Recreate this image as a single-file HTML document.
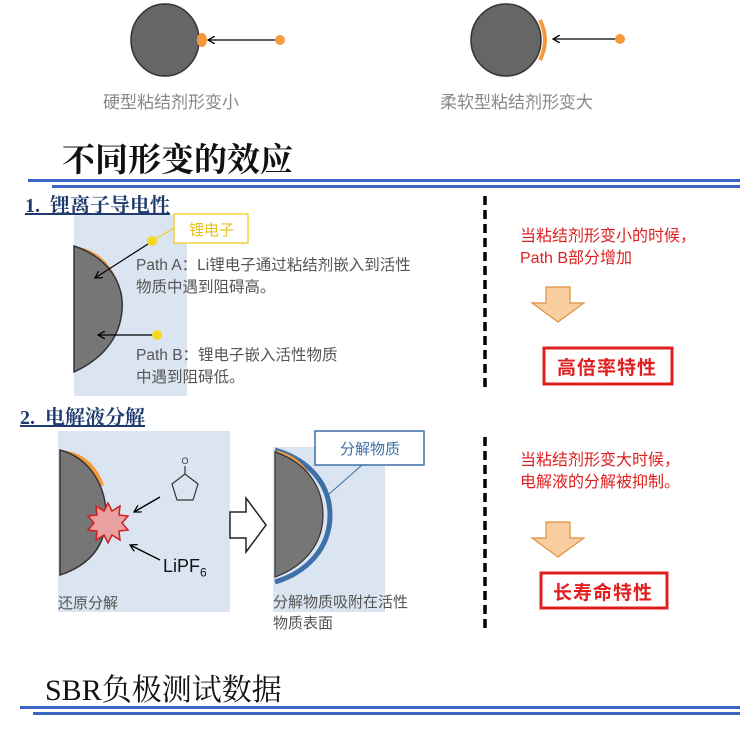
<!DOCTYPE html>
<html><head><meta charset="utf-8"><style>
body{margin:0;width:750px;height:731px;background:#fff;position:relative;overflow:hidden;font-family:"Liberation Sans","Noto Sans CJK SC",sans-serif}
.t{position:absolute;white-space:nowrap}
</style></head><body>
<svg width="750" height="731" style="position:absolute;left:0;top:0">
<defs><marker id="ar" markerWidth="8" markerHeight="8" refX="7" refY="4" orient="auto" markerUnits="userSpaceOnUse"><path d="M0,0 L7,4 L0,8" fill="none" stroke="#000" stroke-width="1.3"/></marker></defs>
<ellipse cx="165" cy="40" rx="34" ry="36" fill="#666" stroke="#333" stroke-width="1.5"/>
<ellipse cx="202" cy="40" rx="5" ry="7" fill="#f39a3c"/>
<line x1="276" y1="40" x2="208" y2="40" stroke="#000" stroke-width="1.2" marker-end="url(#ar)"/>
<circle cx="280" cy="40" r="5" fill="#f39a3c"/>
<ellipse cx="506" cy="40" rx="35" ry="36" fill="#666" stroke="#333" stroke-width="1.5"/>
<path d="M540,20 Q550,40 540,60" fill="none" stroke="#f39a3c" stroke-width="4"/>
<line x1="617" y1="39" x2="553" y2="39" stroke="#000" stroke-width="1.2" marker-end="url(#ar)"/>
<circle cx="620" cy="39" r="5" fill="#f39a3c"/>
<rect x="28" y="179" width="712" height="3" fill="#3a66c9"/>
<rect x="52" y="185" width="688" height="3" fill="#3a66c9"/>
<rect x="20" y="706" width="720" height="3" fill="#3a66c9"/>
<rect x="33" y="712" width="707" height="3" fill="#3a66c9"/>
<rect x="74" y="215" width="113" height="181" fill="#dbe5f1"/>
<path d="M74,246 Q105,250 118,282 L112,285 Q100,262 74,252 Z" fill="#f39a3c"/>
<path d="M74,246 C110,258 124,285 122,310 C120,340 100,360 74,372 Z" fill="#767676" stroke="#333" stroke-width="1.5"/>
<line x1="152" y1="241" x2="174" y2="228" stroke="#f0d040" stroke-width="1.5"/>
<rect x="174" y="214" width="74" height="29" fill="#fff" stroke="#f0d040" stroke-width="1.5"/>
<circle cx="152" cy="241" r="5" fill="#f5d820"/>
<line x1="148" y1="244" x2="95" y2="278" stroke="#000" stroke-width="1.2" marker-end="url(#ar)"/>
<circle cx="157" cy="335" r="5" fill="#f5d820"/>
<line x1="152" y1="335" x2="98" y2="335" stroke="#000" stroke-width="1.2" marker-end="url(#ar)"/>
<rect x="58" y="431" width="172" height="181" fill="#dbe5f1"/>
<path d="M60,450 Q92,452 104,485 L98,488 Q86,462 60,456 Z" fill="#f39a3c"/>
<path d="M60,450 C90,458 104,485 106,510 C108,545 90,565 60,575 Z" fill="#767676" stroke="#333" stroke-width="1.5"/>
<polygon points="108,503 112,511 120,506 119,515 128,516 122,523 128,530 119,531 120,540 112,535 108,543 104,535 96,540 97,531 88,530 94,523 88,516 97,515 96,506 104,511" fill="#e8a0a0" stroke="#d02020" stroke-width="1.5"/>
<polygon points="185,474 198,484 193,500 177,500 172,484" fill="none" stroke="#333" stroke-width="1.2"/>
<line x1="185" y1="474" x2="185" y2="466" stroke="#333" stroke-width="1.2"/>
<text x="185" y="464" font-size="9" text-anchor="middle" fill="#333">O</text>
<line x1="160" y1="497" x2="134" y2="512" stroke="#000" stroke-width="1.5" marker-end="url(#ar)"/>
<line x1="160" y1="560" x2="130" y2="545" stroke="#000" stroke-width="1.5" marker-end="url(#ar)"/>
<path d="M230,512 L246,512 L246,498 L266,525 L246,552 L246,538 L230,538 Z" fill="#fff" stroke="#222" stroke-width="1.5"/>
<rect x="273" y="447" width="112" height="165" fill="#dbe5f1"/>
<path d="M275,450 C310,460 330,485 330,515 C330,550 305,573 275,582" fill="none" stroke="#3d6fa8" stroke-width="5"/>
<path d="M275,450 Q300,455 312,478" fill="#f39a3c"/>
<path d="M275,452 C305,462 323,485 323,515 C323,545 303,567 275,577 Z" fill="#767676" stroke="#333" stroke-width="1.2"/>
<line x1="328" y1="495" x2="362" y2="465" stroke="#3d6fa8" stroke-width="1"/>
<rect x="315" y="431" width="109" height="34" fill="#fff" stroke="#3d6fa8" stroke-width="1.5"/>
<line x1="485" y1="196" x2="485" y2="390" stroke="#000" stroke-width="3.5" stroke-dasharray="9,5"/>
<line x1="485" y1="437" x2="485" y2="632" stroke="#000" stroke-width="3.5" stroke-dasharray="9,5"/>
<path d="M546,287 L570,287 L570,303 L584,303 L558,322 L532,303 L546,303 Z" fill="#f8cda0" stroke="#e09040" stroke-width="1.2"/>
<path d="M546,522 L570,522 L570,538 L584,538 L558,557 L532,538 L546,538 Z" fill="#f8cda0" stroke="#e09040" stroke-width="1.2"/>
<rect x="544" y="348" width="128" height="36" fill="#fff" stroke="#e02020" stroke-width="3"/>
<rect x="541" y="573" width="126" height="35" fill="#fff" stroke="#e02020" stroke-width="3"/>
</svg>
<div class="t" style="left:103px;top:88px;font-size:17px;color:#888">硬型粘结剂形变小</div>
<div class="t" style="left:440px;top:88px;font-size:17px;color:#888">柔软型粘结剂形变大</div>
<div class="t" style="left:62px;top:134px;font-size:33px;font-family:'Liberation Serif','Noto Serif CJK SC',serif;font-weight:bold;color:#111">不同形变的效应</div>
<div class="t" style="left:25px;top:189px;font-size:20px;font-weight:bold;color:#1f3b6e;text-decoration:underline;font-family:'Liberation Serif','Noto Serif CJK SC',serif">1.&nbsp; 锂离子导电性</div>
<div class="t" style="left:189px;top:219px;font-size:15px;color:#e8c020">锂电子</div>
<div class="t" style="left:136px;top:255px;font-size:15.5px;line-height:22px;color:#555">Path A：Li锂电子通过粘结剂嵌入到活性<br>物质中遇到阻碍高。</div>
<div class="t" style="left:136px;top:345px;font-size:15.5px;line-height:22px;color:#555">Path B：锂电子嵌入活性物质<br>中遇到阻碍低。</div>
<div class="t" style="left:20px;top:401px;font-size:20px;font-weight:bold;color:#1f3b6e;text-decoration:underline;font-family:'Liberation Serif','Noto Serif CJK SC',serif">2.&nbsp; 电解液分解</div>
<div class="t" style="left:163px;top:556px;font-size:18px;color:#111">LiPF<sub style="font-size:12px">6</sub></div>
<div class="t" style="left:58px;top:592px;font-size:15px;color:#555">还原分解</div>
<div class="t" style="left:340px;top:438px;font-size:15px;color:#3d6fa8">分解物质</div>
<div class="t" style="left:273px;top:592px;font-size:15px;line-height:21px;color:#555">分解物质吸附在活性<br>物质表面</div>
<div class="t" style="left:520px;top:226px;font-size:16px;line-height:22px;color:#e02020">当粘结剂形变小的时候，<br>Path B部分增加</div>
<div class="t" style="left:557px;top:353px;font-size:19px;font-weight:bold;color:#e02020;letter-spacing:1px">高倍率特性</div>
<div class="t" style="left:520px;top:450px;font-size:16px;line-height:22px;color:#e02020">当粘结剂形变大时候，<br>电解液的分解被抑制。</div>
<div class="t" style="left:553px;top:578px;font-size:19px;font-weight:bold;color:#e02020;letter-spacing:1px">长寿命特性</div>
<div class="t" style="left:45px;top:665px;font-size:30px;font-family:'Liberation Serif','Noto Serif CJK SC',serif;color:#111">SBR负极测试数据</div>
</body></html>
